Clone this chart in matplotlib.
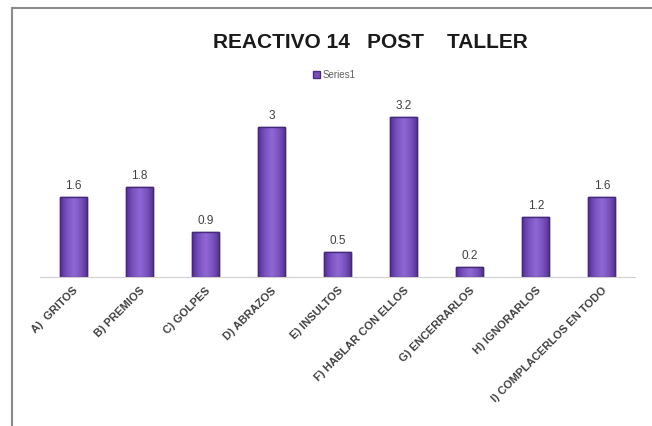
import matplotlib.pyplot as plt
from matplotlib.patches import Rectangle
import numpy as np

categories = ['A)  GRITOS', 'B) PREMIOS', 'C) GOLPES', 'D) ABRAZOS', 'E) INSULTOS',
              'F) HABLAR CON ELLOS', 'G) ENCERRARLOS', 'H) IGNORARLOS',
              'I) COMPLACERLOS EN TODO']
values = [1.6, 1.8, 0.9, 3, 0.5, 3.2, 0.2, 1.2, 1.6]
value_labels = ['1.6', '1.8', '0.9', '3', '0.5', '3.2', '0.2', '1.2', '1.6']

plt.rcParams['font.family'] = ['Liberation Sans', 'DejaVu Sans']

fig = plt.figure(figsize=(6.52, 4.26), dpi=100)
ax = fig.add_axes([40 / 652, 1 - 277 / 426, 595 / 652, 175 / 426])

# outer frame like the screenshot
fig.patches.append(Rectangle((12 / 652, -0.1), 1.2, (426 - 8) / 426 + 0.1,
                             transform=fig.transFigure, fill=False,
                             edgecolor='#8a8a8a', linewidth=1.5))

x = np.arange(len(categories))
bars = ax.bar(x, values, width=0.41, color='#7650B8', edgecolor='#4A2C80', linewidth=1.0)

# horizontal shading inside each bar (dark edges, light centre)
grad = np.abs(np.linspace(-1, 1, 64))[None, :]
from matplotlib.colors import LinearSegmentedColormap
cmap = LinearSegmentedColormap.from_list('barshade', ['#9068d6', '#7a52c0', '#52308f'])
for b in bars:
    x0, w, h = b.get_x(), b.get_width(), b.get_height()
    im = ax.imshow(grad, cmap=cmap, aspect='auto', extent=(x0, x0 + w, 0, h),
                   zorder=b.get_zorder() + 0.1, interpolation='bicubic')
    im.set_clip_path(b)
    ax.add_patch(Rectangle((x0, 0), w, h, fill=False, edgecolor='#45297a',
                           linewidth=1.0, zorder=b.get_zorder() + 0.2))

for xi, v, lab in zip(x, values, value_labels):
    ax.text(xi, v + 0.1, lab, ha='center', va='bottom', fontsize=8.5, color='#404040')

ax.set_xlim(-0.5, 8.5)
ax.set_ylim(0, 3.5)
ax.set_xticks(x)
ax.set_xticklabels(categories, rotation=45, ha='right', rotation_mode='anchor',
                   fontsize=8, fontweight='bold', color='#404040')
ax.tick_params(axis='x', length=0, pad=6)
ax.set_yticks([])
for s in ['top', 'right', 'left']:
    ax.spines[s].set_visible(False)
ax.spines['bottom'].set_color('#d0d0d0')

fig.text(0.568, 1 - 42 / 426, 'REACTIVO 14   POST    TALLER', ha='center', va='center',
         fontsize=15, fontweight='bold', color='#1a1a1a')

ax.legend([bars[0]], ['Series1'], loc='center', bbox_to_anchor=(0.495, (277 - 75) / 175),
          frameon=False, fontsize=7, handlelength=0.7, handleheight=0.7,
          handletextpad=0.3, labelcolor='#606060')

fig.savefig('out.png', dpi=100)
